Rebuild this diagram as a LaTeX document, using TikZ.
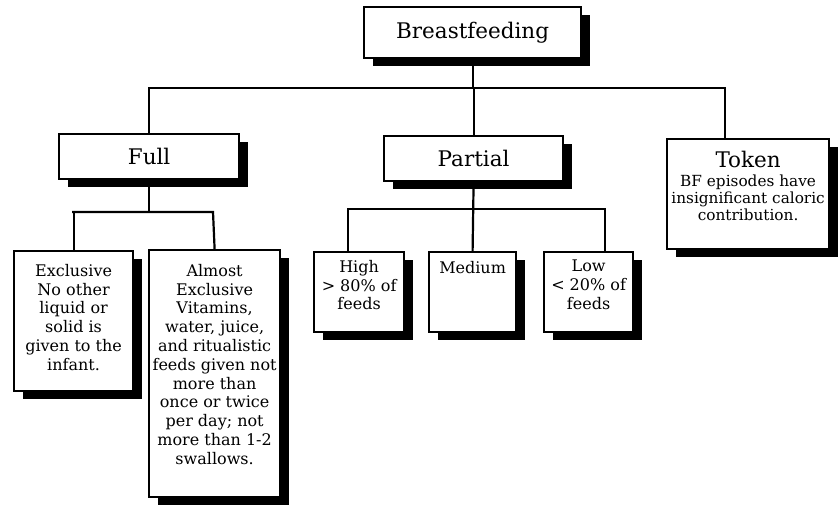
\documentclass[tikz,border=0pt]{standalone}
\usepackage{fontspec}
\setmainfont{DejaVu Serif}
\usetikzlibrary{shadows}
\begin{document}
\begin{tikzpicture}[x=1pt,y=-1pt,
  conn/.style={line width=2.2pt},
  box/.style={draw, line width=2.2pt, fill=white, inner sep=0pt, anchor=north west,
    drop shadow={shadow xshift=9pt, shadow yshift=-8pt, fill=black, opacity=1}},
  ttl/.style={inner sep=0pt, font=\fontsize{21.5}{25}\selectfont},
  txt/.style={inner sep=0pt, align=center, anchor=north, font=\fontsize{16}{18.8}\selectfont}]
\useasboundingbox (0,0) rectangle (838,506);
\coordinate (hl) at (148,88);
\coordinate (hr) at (725,88);
\coordinate (fl) at (72,212);
\coordinate (fr) at (213,212);
\coordinate (pl) at (348,209);
\coordinate (pr) at (605,209);
% boxes
\node[box, minimum width=217, minimum height=51] (bf) at (363,6) {};
\node[ttl] (bft) at (bf.center) {Breastfeeding};
\node[box, minimum width=180, minimum height=45] (full) at (58,133) {};
\node[ttl] (fullt) at (full.center) {Full};
\node[box, minimum width=179, minimum height=45] (part) at (383,135) {};
\node[ttl] (partt) at (part.center) {Partial};
\node[box, minimum width=162, minimum height=110] (tok) at (666,138) {};
\node[ttl, anchor=north] (tokt) at ([yshift=-13pt]tok.north) {Token};
\node[txt, font=\fontsize{15.3}{17}\selectfont] (tokd) at ([yshift=-37pt]tok.north) {BF episodes have\\insignificant caloric\\contribution.};
\node[box, minimum width=119, minimum height=140] (ex) at (13,250) {};
\node[txt] (ext) at ([yshift=-14pt]ex.north) {Exclusive\\No other\\liquid or\\solid is\\given to the\\infant.};
\node[box, minimum width=131, minimum height=247] (ae) at (148,249) {};
\node[txt] (aet) at ([yshift=-15pt]ae.north) {Almost\\Exclusive\\Vitamins,\\water, juice,\\and ritualistic\\feeds given not\\more than\\once or twice\\per day; not\\more than 1-2\\swallows.};
\node[box, minimum width=90, minimum height=80] (hi) at (313,251) {};
\node[txt] (hit) at ([yshift=-9pt]hi.north) {High\\> 80\% of\\feeds};
\node[box, minimum width=87, minimum height=80] (med) at (428,251) {};
\node[txt] (medt) at ([yshift=-10pt]med.north) {Medium};
\node[box, minimum width=89, minimum height=80] (lo) at (543,251) {};
\node[txt] (lot) at ([yshift=-9pt]lo.north) {Low\\< 20\% of\\feeds};
% connectors
\draw[conn] (bf.south) -- (bf.south |- hl);
\draw[conn] (full.north |- hl) -- (hl) -- (hr) -- (hr |- tok.north);
\draw[conn] (full.north |- hl) -- (full.north);
\draw[conn] (part.north |- hl) -- (part.north);
\draw[conn] (full.south) -- (full.south |- fl);
\draw[conn] (ex.north |- fl) -- (fl) -- (fr) -- (ae.north);
\draw[conn] (ex.north |- fl) -- (ex.north);
\draw[conn] (part.south) -- (med.north);
\draw[conn] (pl |- hi.north) -- (pl) -- (pr) -- (pr |- lo.north);
\end{tikzpicture}
\end{document}
